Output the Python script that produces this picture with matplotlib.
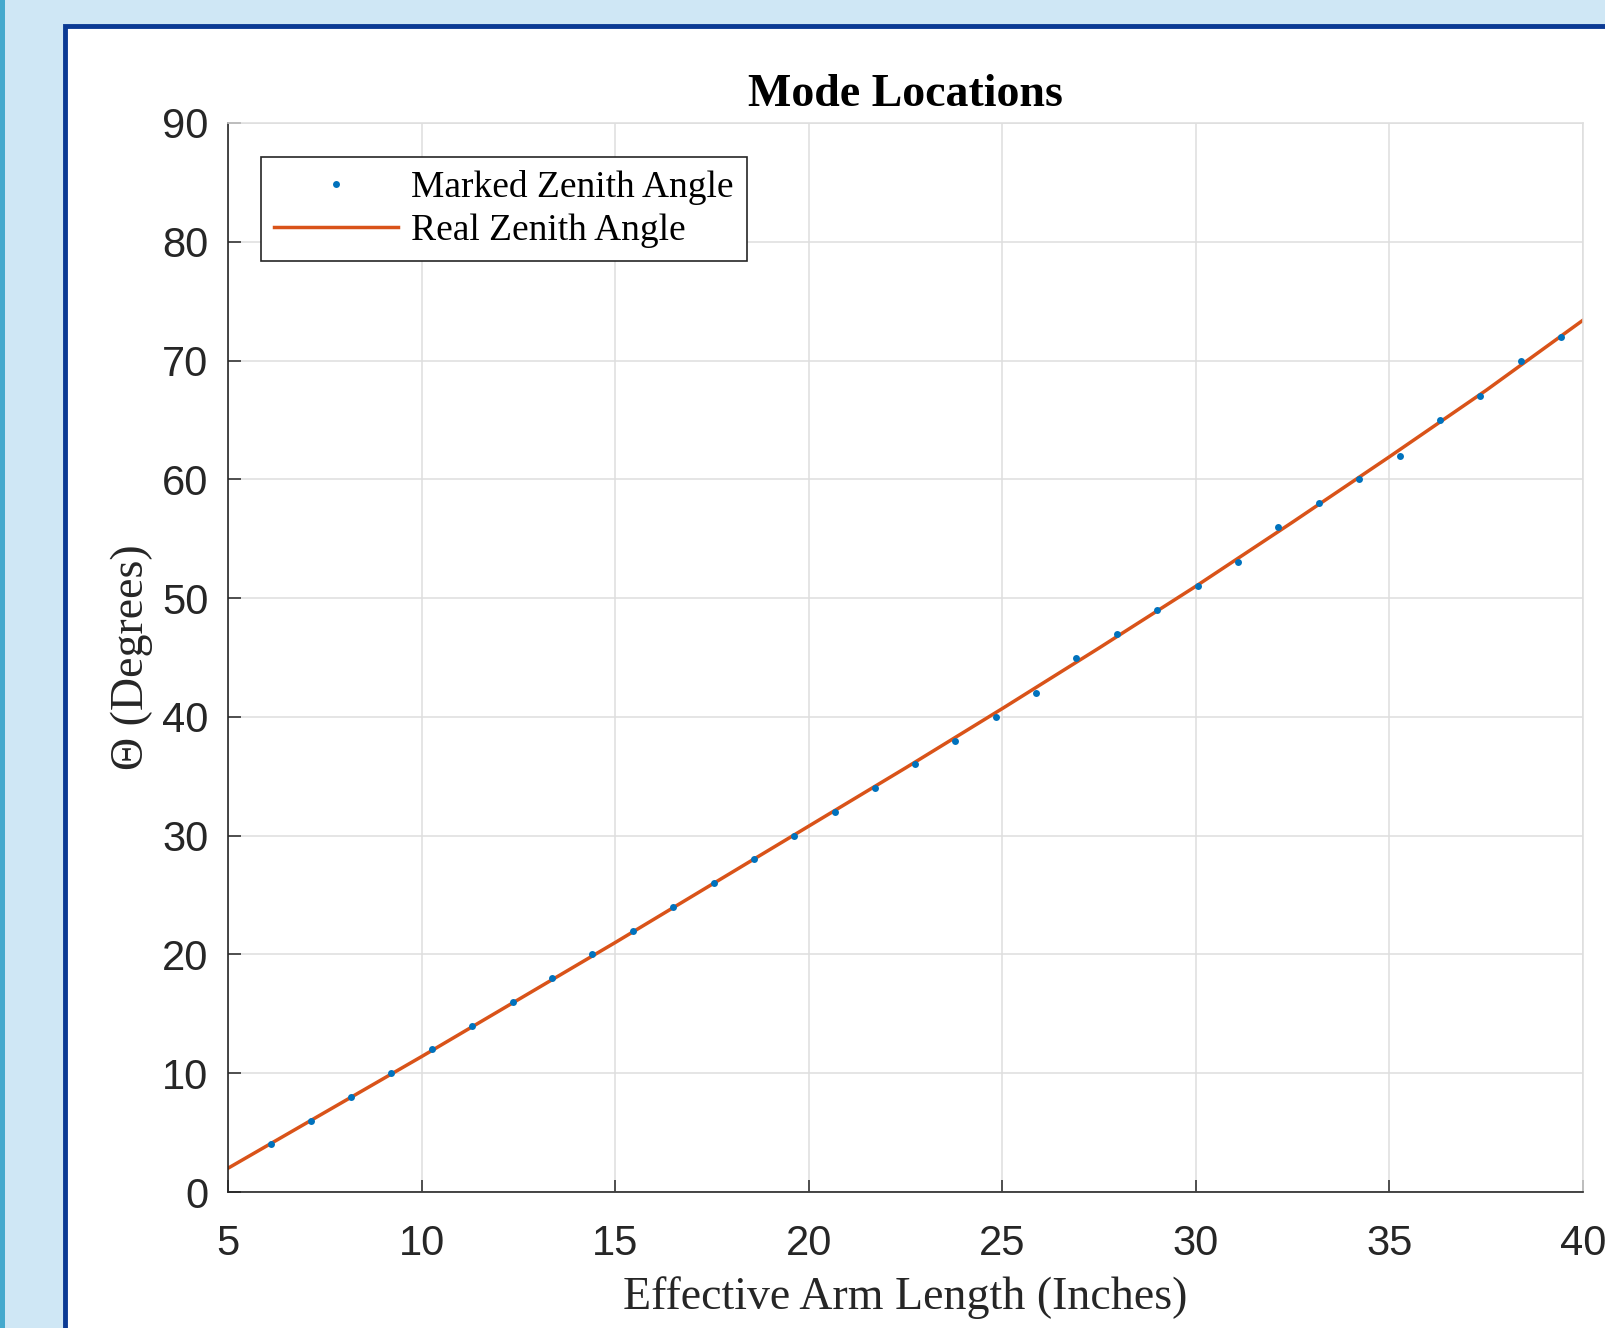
import matplotlib
matplotlib.use("Agg")
from matplotlib import pyplot as plt
from matplotlib.patches import Rectangle

# marked zenith angles
arm_marked = [6.11, 7.14, 8.17, 9.20, 10.26, 11.29, 12.35, 13.38, 14.41, 15.47,
              16.50, 17.56, 18.59, 19.62, 20.68, 21.71, 22.74, 23.79, 24.83, 25.88,
              26.91, 27.97, 29.00, 30.06, 31.09, 32.12, 33.18, 34.21, 35.27, 36.30,
              37.33, 38.39, 39.42]
theta_marked = [4, 6, 8, 10, 12, 14, 16, 18, 20, 22,
                24, 26, 28, 30, 32, 34, 36, 38, 40, 42,
                45, 47, 49, 51, 53, 56, 58, 60, 62, 65,
                67, 70, 72]

# real zenith angle curve
arm_real = [5, 7.5, 10, 12.5, 15, 17.5, 20, 22.5, 25, 27.5, 30, 32.5, 35, 37.5, 40]
theta_real = [2.0, 6.7, 11.4, 16.2, 21.0, 25.9, 30.8, 35.7, 40.7, 45.8, 51.0, 56.4, 61.9, 67.5, 73.4]

x_ticks = [5, 10, 15, 20, 25, 30, 35, 40]
y_ticks = [0, 10, 20, 30, 40, 50, 60, 70, 80, 90]

W, H = 1605, 1328
fig = plt.figure(figsize=(W / 100, H / 100), dpi=100)
fig.patch.set_facecolor("#cfe7f5")

# screenshot frame
bg = fig.add_axes([0, 0, 1, 1], zorder=-5)
bg.set_xlim(0, W)
bg.set_ylim(H, 0)
bg.axis("off")
bg.add_patch(Rectangle((0, 0), 5, H, facecolor="#45a9cd", edgecolor="none"))
bg.add_patch(Rectangle((65, 26), W, H, facecolor="white", edgecolor="#0b3a94", linewidth=3.5))

serif = "Liberation Serif"
sans = "Liberation Sans"
grid_c = "#dedede"
dark = "#262626"

ax = fig.add_axes([228 / W, 1 - 1192 / H, 1355 / W, 1069 / H])
ax.plot(arm_marked, theta_marked, "o", color="#0072BD", markersize=5, markeredgewidth=0,
        label="Marked Zenith Angle", zorder=3)
ax.plot(arm_real, theta_real, "-", color="#D95319", linewidth=2.5,
        label="Real Zenith Angle", zorder=2)

ax.set_xlim(5, 40)
ax.set_ylim(0, 90)
ax.set_xticks(x_ticks)
ax.set_yticks(y_ticks)
ax.grid(True, color=grid_c, linewidth=1.1)
ax.set_axisbelow(True)

for s in ["left", "bottom"]:
    ax.spines[s].set_color(dark)
    ax.spines[s].set_linewidth(1.2)
for s in ["top", "right"]:
    ax.spines[s].set_color(grid_c)
    ax.spines[s].set_linewidth(1.1)

ax.tick_params(axis="both", direction="in", length=9, width=1.1, color=dark,
               labelcolor=dark, labelsize=30)
ax.tick_params(axis="x", pad=23)
ax.tick_params(axis="y", pad=14)
for lab in ax.get_xticklabels() + ax.get_yticklabels():
    lab.set_fontfamily(sans)

ax.set_title("Mode Locations", fontfamily=serif, fontweight="bold", fontsize=33, pad=12)
ax.set_xlabel("Effective Arm Length (Inches)", fontfamily=serif, fontsize=33, color=dark)
ax.set_ylabel("\u0398 (Degrees)", fontfamily=serif, fontsize=33, color=dark)
ax.xaxis.set_label_coords(0.5, -0.079)
ax.yaxis.set_label_coords(-0.055, 0.5)

leg = ax.legend(loc="upper left", bbox_to_anchor=(0.0244, 0.968), borderaxespad=0,
                prop={"family": serif, "size": 27}, numpoints=1, handlelength=3.3,
                handletextpad=0.35, labelspacing=0.22, borderpad=0.35, fancybox=False,
                framealpha=1)
leg.get_frame().set_edgecolor(dark)
leg.get_frame().set_linewidth(1.2)

plt.savefig("out.png", dpi=100, facecolor=fig.get_facecolor())
plt.close()
